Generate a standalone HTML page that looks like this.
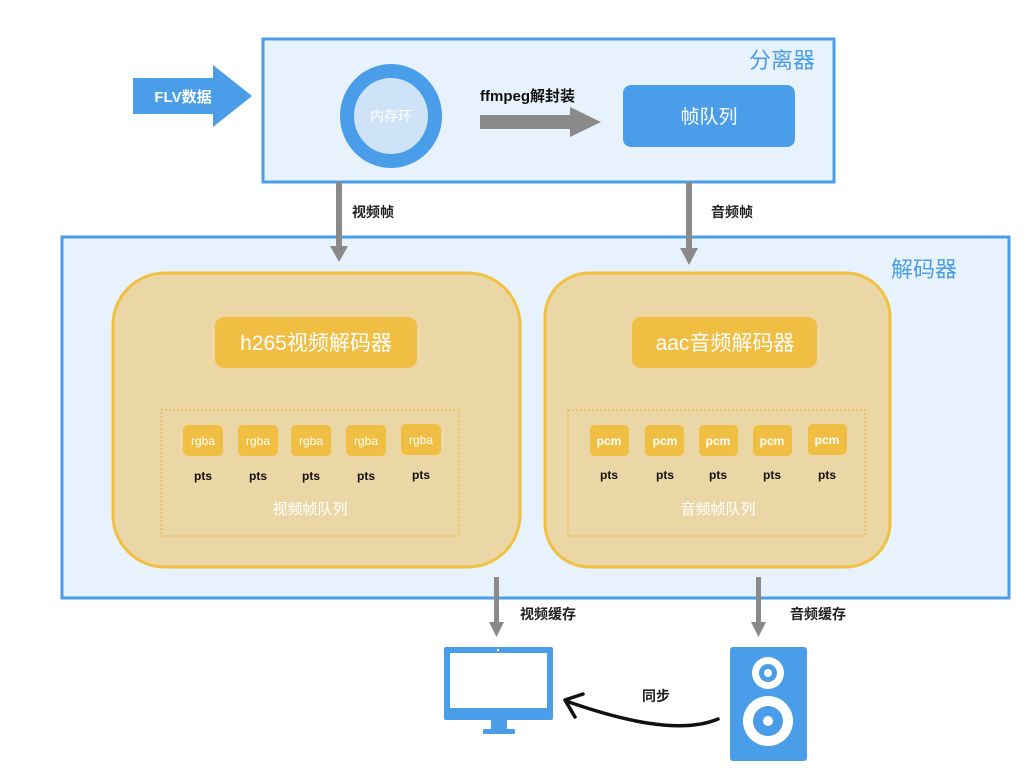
<!DOCTYPE html>
<html><head><meta charset="utf-8"><style>
html,body{margin:0;padding:0;background:#fff;width:1024px;height:768px;overflow:hidden}
svg{display:block}
text{font-family:"Liberation Sans","Noto Sans CJK SC",sans-serif}
</style></head><body>
<svg width="1024" height="768" viewBox="0 0 1024 768" xmlns="http://www.w3.org/2000/svg">
<!-- separator -->
<rect x="263" y="39" width="571" height="143" fill="#e8f2fc" stroke="#4a9de8" stroke-width="3"/>
<text x="815" y="68" font-size="22" fill="#4a9de8" text-anchor="end">分离器</text>
<!-- FLV arrow -->
<polygon points="133,78 213,78 213,65 252,96 213,127 213,114 133,114" fill="#4a9de8"/>
<text x="183" y="102" font-size="15" font-weight="bold" fill="#fff" text-anchor="middle">FLV数据</text>
<!-- ring -->
<ellipse cx="391" cy="116" rx="51" ry="52" fill="#4a9de8"/>
<ellipse cx="391" cy="116" rx="37" ry="38" fill="#cfe3f8"/>
<text x="391" y="121" font-size="14" fill="#fff" text-anchor="middle">内存环</text>
<!-- ffmpeg -->
<text x="480" y="101" font-size="15" font-weight="bold" fill="#111">ffmpeg解封装</text>
<polygon points="480,115 570,115 570,107 601,122 570,137 570,129 480,129" fill="#8a8a8a"/>
<rect x="623" y="85" width="172" height="62" rx="8" fill="#4a9de8"/>
<text x="709" y="123" font-size="19" fill="#fff" text-anchor="middle">帧队列</text>
<!-- decoder -->
<rect x="62" y="237" width="947" height="361" fill="#e8f2fc" stroke="#4a9de8" stroke-width="3"/>
<text x="957" y="277" font-size="22" fill="#4a9de8" text-anchor="end">解码器</text>
<!-- down arrows -->
<rect x="336" y="182" width="6" height="66" fill="#8a8a8a"/>
<polygon points="330,246 348,246 339,262" fill="#8a8a8a"/>
<text x="352" y="217" font-size="14" font-weight="bold" fill="#222">视频帧</text>
<rect x="686" y="182" width="6" height="68" fill="#8a8a8a"/>
<polygon points="680,248 698,248 689,265" fill="#8a8a8a"/>
<text x="711" y="217" font-size="14" font-weight="bold" fill="#222">音频帧</text>
<!-- left -->
<rect x="113" y="273" width="407" height="294" rx="52" fill="#ebd7a6" stroke="#f0c040" stroke-width="3"/>
<rect x="215" y="317" width="202" height="51" rx="9" fill="#f0be42"/>
<text x="316" y="350" font-size="21" fill="#fff" text-anchor="middle">h265视频解码器</text>
<rect x="161" y="410" width="298" height="126" fill="none" stroke="#e8b840" stroke-width="1.2" stroke-dasharray="2,2"/>
<g font-size="12" text-anchor="middle">
<rect x="183" y="425" width="40" height="31" rx="5" fill="#f0be42"/><text x="203" y="445" fill="#fff">rgba</text><text x="203" y="480" font-weight="bold" fill="#111">pts</text>
<rect x="238" y="425" width="40" height="31" rx="5" fill="#f0be42"/><text x="258" y="445" fill="#fff">rgba</text><text x="258" y="480" font-weight="bold" fill="#111">pts</text>
<rect x="291" y="425" width="40" height="31" rx="5" fill="#f0be42"/><text x="311" y="445" fill="#fff">rgba</text><text x="311" y="480" font-weight="bold" fill="#111">pts</text>
<rect x="346" y="425" width="40" height="31" rx="5" fill="#f0be42"/><text x="366" y="445" fill="#fff">rgba</text><text x="366" y="480" font-weight="bold" fill="#111">pts</text>
<rect x="401" y="424" width="40" height="31" rx="5" fill="#f0be42"/><text x="421" y="444" fill="#fff">rgba</text><text x="421" y="479" font-weight="bold" fill="#111">pts</text>
</g>
<text x="310" y="514" font-size="15" fill="#fff" text-anchor="middle">视频帧队列</text>
<!-- right -->
<rect x="545" y="273" width="345" height="294" rx="44" fill="#ebd7a6" stroke="#f0c040" stroke-width="3"/>
<rect x="632" y="317" width="185" height="51" rx="9" fill="#f0be42"/>
<text x="725" y="350" font-size="21" fill="#fff" text-anchor="middle">aac音频解码器</text>
<rect x="568" y="410" width="297" height="126" fill="none" stroke="#e8b840" stroke-width="1.2" stroke-dasharray="2,2"/>
<g font-size="12" text-anchor="middle">
<rect x="590" y="425" width="39" height="31" rx="5" fill="#f0be42"/><text x="609" y="445" font-weight="bold" fill="#fff">pcm</text><text x="609" y="479" font-weight="bold" fill="#111">pts</text>
<rect x="645" y="425" width="39" height="31" rx="5" fill="#f0be42"/><text x="665" y="445" font-weight="bold" fill="#fff">pcm</text><text x="665" y="479" font-weight="bold" fill="#111">pts</text>
<rect x="699" y="425" width="39" height="31" rx="5" fill="#f0be42"/><text x="718" y="445" font-weight="bold" fill="#fff">pcm</text><text x="718" y="479" font-weight="bold" fill="#111">pts</text>
<rect x="753" y="425" width="39" height="31" rx="5" fill="#f0be42"/><text x="772" y="445" font-weight="bold" fill="#fff">pcm</text><text x="772" y="479" font-weight="bold" fill="#111">pts</text>
<rect x="808" y="424" width="39" height="31" rx="5" fill="#f0be42"/><text x="827" y="444" font-weight="bold" fill="#fff">pcm</text><text x="827" y="479" font-weight="bold" fill="#111">pts</text>
</g>
<text x="718" y="514" font-size="15" fill="#fff" text-anchor="middle">音频帧队列</text>
<!-- bottom arrows -->
<rect x="494" y="577" width="5" height="46" fill="#8a8a8a"/>
<polygon points="489,622 504,622 496.5,637" fill="#8a8a8a"/>
<text x="520" y="619" font-size="14" font-weight="bold" fill="#222">视频缓存</text>
<rect x="756" y="577" width="5" height="46" fill="#8a8a8a"/>
<polygon points="751,622 766,622 758.5,637" fill="#8a8a8a"/>
<text x="790" y="619" font-size="14" font-weight="bold" fill="#222">音频缓存</text>
<!-- monitor -->
<rect x="444" y="647" width="109" height="73" rx="2" fill="#4a9de8"/>
<rect x="450" y="653" width="97" height="55" fill="#fff"/>
<circle cx="498" cy="650" r="1.2" fill="#fff"/>
<rect x="491" y="720" width="16" height="10" fill="#4a9de8"/>
<rect x="483" y="729" width="32" height="5" rx="1" fill="#4a9de8"/>
<!-- speaker -->
<rect x="730" y="647" width="77" height="114" rx="3" fill="#4a9de8"/>
<circle cx="768" cy="673" r="16" fill="#fff"/><circle cx="768" cy="673" r="9" fill="#4a9de8"/><circle cx="768" cy="673" r="4" fill="#fff"/>
<circle cx="768" cy="721" r="25" fill="#fff"/><circle cx="768" cy="721" r="15" fill="#4a9de8"/><circle cx="768" cy="721" r="5" fill="#fff"/>
<!-- sync curve -->
<path d="M718,719 C680,735 620,720 566,701" fill="none" stroke="#111" stroke-width="3.5" stroke-linecap="round"/>
<path d="M583,694 L565,700 L575,717" fill="none" stroke="#111" stroke-width="3.5" stroke-linecap="round" stroke-linejoin="round"/>
<text x="642" y="701" font-size="14" font-weight="bold" fill="#222">同步</text>
</svg>
</body></html>
